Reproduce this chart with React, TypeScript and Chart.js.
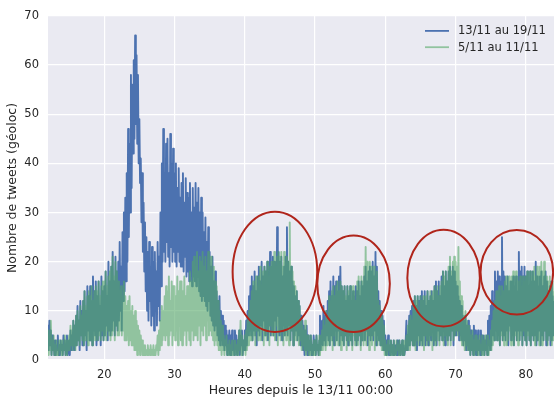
import { useEffect, useRef } from "react";
import { Chart, registerables } from "chart.js";

Chart.register(...registerables);

// Hourly axis: samples every 0.1 h starting at hour 12 (13/11 12:00)
const START_HOUR = 12;
const STEP_HOURS = 0.1;
const X_MIN = 12;
const X_MAX = 84;
const xTickValues = [20, 30, 40, 50, 60, 70, 80];
const yTickValues = [0, 10, 20, 30, 40, 50, 60, 70];
const seriesLabels = ["13/11 au 19/11", "5/11 au 11/11"];
const xTitle = "Heures depuis le 13/11 00:00";
const yTitle = "Nombre de tweets (géoloc)";

// Week 13/11 -> 19/11 (blue)
const tweets1319: number[] = [
  7,2,8,3,6,1,5,2,4,1,
  4,1,3,2,5,1,3,1,4,2,
  3,1,5,2,4,1,2,5,1,3,
  4,1,6,2,5,3,8,2,7,3,
  9,3,11,4,8,2,12,5,10,3,
  12,3,14,5,10,2,15,6,13,4,
  15,4,12,3,17,6,14,5,16,3,
  13,4,16,6,11,3,17,5,14,4,
  15,5,18,7,13,4,20,6,16,5,
  19,6,22,8,16,5,21,7,18,6,
  20,8,24,10,19,6,26,12,30,14,
  33,16,38,20,47,25,44,30,58,35,
  56,42,61,45,66,48,62,44,58,40,
  49,36,41,28,38,22,32,18,28,14,
  25,10,22,8,24,12,19,7,23,9,
  20,6,22,10,18,7,24,11,21,8,
  30,15,40,20,47,22,38,20,44,24,
  45,21,38,19,46,23,40,20,43,22,
  38,20,40,19,35,22,39,20,33,19,
  36,19,38,18,32,21,37,17,34,18,
  33,16,36,18,30,15,35,17,31,16,
  36,15,32,17,35,14,30,13,33,12,
  30,13,26,12,29,11,24,10,27,12,
  22,9,19,8,21,7,16,6,18,7,
  14,5,12,4,13,3,10,4,9,3,
  8,2,7,3,6,1,5,2,6,1,
  5,1,6,2,4,1,6,3,5,1,
  4,2,6,1,5,3,6,1,4,2,
  6,2,8,3,10,5,13,6,15,5,
  17,4,15,6,18,5,14,3,17,6,
  19,5,16,7,20,4,17,8,19,5,
  18,6,20,4,17,7,22,5,19,6,
  21,5,20,8,18,4,27,9,22,5,
  20,6,21,4,17,7,19,5,21,6,
  27,5,20,7,18,4,19,6,16,3,
  15,5,13,6,14,4,12,5,11,3,
  9,3,8,2,7,1,6,2,7,1,
  5,1,4,2,5,1,3,1,5,2,
  4,1,5,2,3,1,4,9,2,6,
  8,3,11,4,9,3,10,5,12,4,
  14,3,16,5,13,4,17,3,15,6,
  16,4,14,6,17,3,19,5,15,4,
  14,3,15,5,12,4,15,3,13,5,
  15,4,12,3,14,6,13,4,15,3,
  14,4,16,5,13,3,16,4,15,6,
  17,4,19,6,16,3,18,5,19,4,
  18,5,20,4,17,6,22,3,19,5,
  14,4,12,3,10,3,9,2,8,2,
  5,1,4,2,5,1,3,1,4,2,
  3,1,4,1,2,3,1,4,1,3,
  4,1,3,2,4,1,3,1,2,4,
  8,2,5,3,9,3,10,4,11,3,
  12,3,13,4,11,2,13,5,12,3,
  13,4,14,3,12,5,14,3,11,4,
  14,3,12,5,13,4,14,6,12,3,
  15,4,16,3,14,6,16,4,13,5,
  17,4,18,6,15,3,18,5,16,4,
  18,5,19,4,17,6,19,3,18,5,
  16,5,15,6,13,4,12,5,11,4,
  9,3,8,4,9,2,7,3,8,2,
  7,1,6,2,5,1,7,2,6,1,
  5,1,6,2,4,1,6,1,5,2,
  5,1,4,2,5,1,8,3,9,2,
  11,3,14,5,12,4,18,6,16,4,
  18,5,17,3,16,6,25,4,18,5,
  17,4,15,6,17,3,14,7,16,4,
  16,5,17,3,15,6,17,4,14,6,
  22,4,18,6,19,3,17,5,19,4,
  17,3,18,6,15,4,18,3,16,5,
  18,4,16,5,20,3,17,4,15,6,
  17,3,18,5,15,4,17,6,18,3,
  16,4,14,5,15,3,16,4,13,5,
  12,
];

// Week 5/11 -> 11/11 (green)
const tweets0511: number[] = [
  6,1,5,2,8,1,4,2,5,1,
  3,1,4,1,2,1,4,2,3,1,
  4,1,3,2,5,1,4,1,3,2,
  5,2,7,3,6,2,8,3,7,2,
  9,3,10,4,8,3,11,5,9,4,
  12,3,14,4,11,5,13,3,14,4,
  13,4,15,3,12,5,14,4,15,5,
  14,4,16,5,13,4,15,6,16,4,
  16,5,18,4,15,6,17,5,18,4,
  19,5,21,6,17,4,20,7,18,5,
  16,5,14,6,15,5,13,6,16,4,
  13,4,11,5,12,3,13,4,10,3,
  11,3,9,2,10,2,8,1,7,2,
  6,1,5,2,4,1,3,1,3,1,
  2,1,3,1,2,1,3,1,2,1,
  3,1,2,1,3,2,5,1,6,2,
  8,3,11,4,10,5,13,4,15,5,
  14,3,17,5,12,6,16,3,15,5,
  15,4,13,6,17,3,14,7,16,4,
  16,3,14,5,17,6,13,3,15,6,
  15,4,18,3,16,6,20,4,21,5,
  19,5,22,4,18,7,21,3,20,6,
  22,5,19,7,21,4,18,8,22,5,
  20,6,21,5,17,4,19,3,16,4,
  15,3,12,2,10,2,8,1,7,2,
  5,1,4,2,5,1,3,1,4,1,
  3,1,4,1,2,1,4,2,3,1,
  4,1,6,2,8,1,5,1,4,2,
  5,1,6,2,8,3,10,4,12,4,
  14,4,16,5,13,3,17,6,15,4,
  17,5,19,4,15,6,18,3,19,5,
  18,4,20,6,17,3,19,7,20,5,
  20,5,22,4,19,7,21,3,22,6,
  21,4,22,6,19,3,22,5,20,4,
  21,5,20,3,28,4,19,6,18,3,
  16,5,15,4,14,5,12,3,11,4,
  8,2,7,3,6,2,8,1,5,2,
  5,1,4,1,5,2,3,1,4,1,
  4,1,5,2,3,1,5,1,4,2,
  6,2,8,3,7,2,10,3,9,4,
  13,3,12,4,14,2,15,5,13,3,
  15,4,16,3,14,5,16,2,15,4,
  14,3,15,5,13,2,15,4,14,3,
  15,4,13,2,15,5,14,3,12,4,
  16,3,17,5,15,2,17,4,16,3,
  19,4,23,3,20,5,18,2,20,4,
  19,3,18,5,19,2,17,4,18,3,
  12,4,11,3,9,2,8,2,7,1,
  4,1,3,1,4,2,3,1,4,1,
  3,1,4,1,2,1,4,2,3,1,
  4,1,3,2,4,1,3,1,4,2,
  5,2,7,3,8,2,9,4,8,3,
  11,3,13,2,12,4,13,3,10,4,
  13,3,12,4,13,2,11,5,13,3,
  14,4,12,3,14,5,13,2,14,4,
  15,3,14,5,15,4,13,3,15,5,
  16,4,18,3,17,5,18,4,16,3,
  19,5,21,3,18,6,20,4,21,5,
  20,6,19,5,23,6,16,4,13,3,
  12,3,9,2,10,3,8,2,7,2,
  6,1,5,2,6,1,4,1,5,2,
  5,1,4,1,5,2,3,1,5,1,
  4,1,5,2,3,1,5,1,4,2,
  6,2,8,3,10,4,12,5,14,4,
  14,4,15,3,13,5,15,4,14,3,
  16,5,17,3,15,4,17,6,16,3,
  17,4,18,3,16,5,18,4,17,3,
  16,4,17,5,15,3,17,6,16,4,
  17,3,18,5,16,4,18,3,17,5,
  18,4,19,3,17,5,19,4,18,3,
  19,5,20,3,18,4,20,6,17,4,
  17,3,16,5,17,4,15,3,16,4,
  14,
];

// Circled regions (annotation), in data units: centre hour, centre count, half-width (h), half-height (count)
const circleHours = [44.29, 55.48, 68.29, 78.71];
const circleCounts = [17.95, 15.52, 16.66, 17.86];
const circleHalfHours = [6.02, 5.16, 5.16, 5.16];
const circleHalfCounts = [12.23, 9.82, 9.82, 8.61];

const BLUE = "#4C72B0";
const GREEN = "rgba(85,168,104,0.6)";
const TEXT = "#262626";
const FONT = "'DejaVu Sans', sans-serif";

export default function App() {
  const ref = useRef<HTMLCanvasElement>(null);

  useEffect(() => {
    document.body.style.margin = "0";
    const canvas = ref.current;
    if (!canvas) return;

    const toPoints = (vals: number[]) =>
      vals.map((v, i) => ({ x: START_HOUR + i * STEP_HOURS, y: v }));

    const bgPlugin = {
      id: "bgPlot",
      beforeDraw(chart: any) {
        const { ctx, chartArea: a } = chart;
        ctx.save();
        ctx.fillStyle = "#EAEAF2";
        ctx.fillRect(a.left, a.top, a.right - a.left, a.bottom - a.top);
        ctx.restore();
      },
    };

    const ellipsePlugin = {
      id: "circles",
      afterDatasetsDraw(chart: any) {
        const { ctx } = chart;
        const xs = chart.scales.x;
        const ys = chart.scales.y;
        ctx.save();
        ctx.strokeStyle = "#B0251B";
        ctx.lineWidth = 2;
        for (let i = 0; i < circleHours.length; i++) {
          const cx = xs.getPixelForValue(circleHours[i]);
          const cy = ys.getPixelForValue(circleCounts[i]);
          const rx = Math.abs(xs.getPixelForValue(circleHours[i] + circleHalfHours[i]) - cx);
          const ry = Math.abs(ys.getPixelForValue(circleCounts[i] + circleHalfCounts[i]) - cy);
          ctx.beginPath();
          ctx.ellipse(cx, cy, rx, ry, 0, 0, Math.PI * 2);
          ctx.stroke();
        }
        ctx.restore();
      },
    };

    const legendPlugin = {
      id: "insideLegend",
      afterDraw(chart: any) {
        const { ctx, chartArea: a } = chart;
        const colors = [BLUE, GREEN];
        const x0 = a.right - 129;
        ctx.save();
        ctx.font = `11.5px ${FONT}`;
        ctx.textBaseline = "middle";
        ctx.textAlign = "left";
        for (let i = 0; i < seriesLabels.length; i++) {
          const y = a.top + 15 + i * 16.3;
          ctx.strokeStyle = colors[i];
          ctx.lineWidth = 1.8;
          ctx.beginPath();
          ctx.moveTo(x0, y);
          ctx.lineTo(x0 + 24, y);
          ctx.stroke();
          ctx.fillStyle = TEXT;
          ctx.fillText(seriesLabels[i], x0 + 33, y + 0.5);
        }
        ctx.restore();
      },
    };

    const chart = new Chart(canvas, {
      type: "line",
      data: {
        datasets: [
          {
            label: seriesLabels[0],
            data: toPoints(tweets1319),
            borderColor: BLUE,
            borderWidth: 1.9,
            pointRadius: 0,
            borderJoinStyle: "round",
            tension: 0,
            order: 2,
          },
          {
            label: seriesLabels[1],
            data: toPoints(tweets0511),
            borderColor: GREEN,
            borderWidth: 1.9,
            pointRadius: 0,
            borderJoinStyle: "round",
            tension: 0,
            order: 1,
          },
        ],
      },
      options: {
        responsive: false,
        animation: false,
        events: [],
        layout: { padding: { top: 12, right: 0, left: 0, bottom: 0 } },
        plugins: { legend: { display: false }, tooltip: { enabled: false } },
        scales: {
          x: {
            type: "linear",
            min: X_MIN,
            max: X_MAX,
            afterBuildTicks: (s: any) => {
              s.ticks = xTickValues.map((value) => ({ value }));
            },
            afterFit: (s: any) => {
              s.height = 38;
            },
            grid: { color: "#FFFFFF", lineWidth: 1.2, drawTicks: false },
            border: { display: false },
            ticks: { padding: 8, color: TEXT, font: { family: FONT, size: 11.5 } },
            title: {
              display: true,
              text: xTitle,
              color: TEXT,
              font: { family: FONT, size: 12.5 },
              padding: 0,
            },
          },
          y: {
            type: "linear",
            min: 0,
            max: 70,
            afterBuildTicks: (s: any) => {
              s.ticks = yTickValues.map((value) => ({ value }));
            },
            afterFit: (s: any) => {
              s.width = 48;
            },
            grid: { color: "#FFFFFF", lineWidth: 1.2, drawTicks: false },
            border: { display: false },
            ticks: { padding: 9, color: TEXT, font: { family: FONT, size: 11.5 } },
            title: {
              display: true,
              text: yTitle,
              color: TEXT,
              font: { family: FONT, size: 12.5 },
              padding: { top: 5, bottom: 0 },
            },
          },
        },
      },
      plugins: [bgPlugin, ellipsePlugin, legendPlugin],
    } as any);

    return () => chart.destroy();
  }, []);

  return (
    <div style={{ width: 554, height: 398 }}>
      <canvas ref={ref} width={554} height={398} style={{ display: "block" }} />
    </div>
  );
}
